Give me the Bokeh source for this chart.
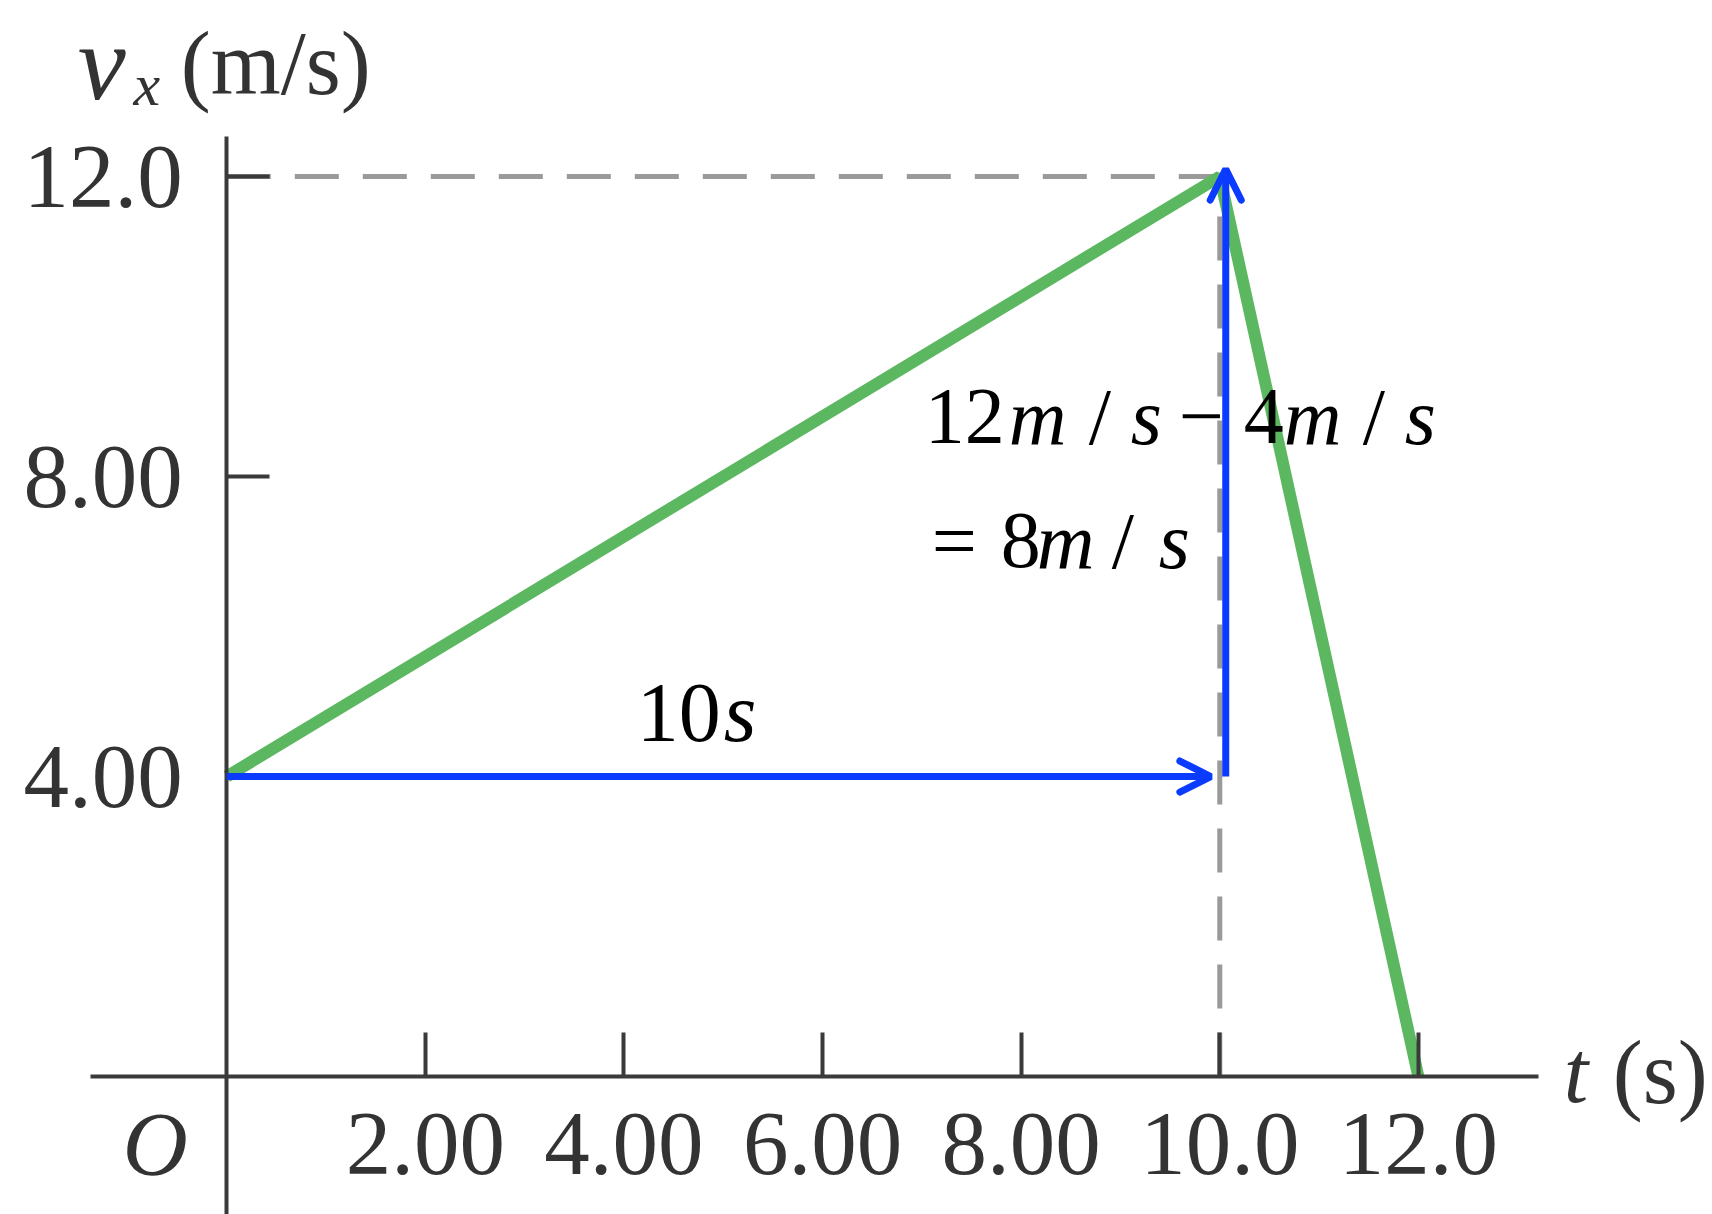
from bokeh.plotting import figure
from bokeh.models import (Range1d, FixedTicker, Label, Arrow, OpenHead,
                          LinearAxis, CustomJSTickFormatter)
from bokeh.embed import file_html
from bokeh.resources import INLINE

# ---- data ----
t_vals = [0.0, 10.0, 12.0]
v_vals = [4.0, 12.0, 0.0]
x_ticks = [2, 4, 6, 8, 10, 12]
x_tick_labels = ["2.00", "4.00", "6.00", "8.00", "10.0", "12.0"]
y_ticks = [4, 8, 12]
y_tick_labels = ["4.00", "8.00", "12.0"]

SERIF = "Liberation Serif"
AXIS_C = "#3a3a3a"
LABEL_C = "#333333"
BLUE = "#0B3BFF"
GREEN = "#5CB860"
DASH_C = "#9a9a9a"

W, H = 1712, 1214
p = figure(width=W, height=H, output_backend="svg", toolbar_location=None,
           x_range=Range1d(-2.279, 14.962), y_range=Range1d(-1.84, 14.347),
           min_border=0, x_axis_type=None, y_axis_type=None)
p.outline_line_color = None
p.background_fill_color = "white"
p.border_fill_color = "white"


def fmt(tick_list, label_list):
    return CustomJSTickFormatter(args=dict(tvals=tick_list, tlabels=label_list),
                                 code="const i = tvals.indexOf(tick); return i >= 0 ? tlabels[i] : '';")


xaxis = LinearAxis(fixed_location=0, ticker=FixedTicker(ticks=x_ticks),
                   formatter=fmt(x_ticks, x_tick_labels), bounds=(-1.37, 13.21),
                   axis_line_color=AXIS_C, axis_line_width=4,
                   major_tick_line_color=AXIS_C, major_tick_line_width=4,
                   major_tick_in=44, major_tick_out=0,
                   minor_tick_in=0, minor_tick_out=0,
                   major_label_text_font=SERIF, major_label_text_font_size="91px",
                   major_label_text_color=LABEL_C, major_label_standoff=37)
p.add_layout(xaxis, "below")

yaxis = LinearAxis(fixed_location=0, ticker=FixedTicker(ticks=y_ticks),
                   formatter=fmt(y_ticks, y_tick_labels), bounds=(-2.0, 12.53),
                   axis_line_color=AXIS_C, axis_line_width=4,
                   major_tick_line_color=AXIS_C, major_tick_line_width=4,
                   major_tick_in=43, major_tick_out=0,
                   minor_tick_in=0, minor_tick_out=0,
                   major_label_text_font=SERIF, major_label_text_font_size="91px",
                   major_label_text_color=LABEL_C, major_label_standoff=44)
p.add_layout(yaxis, "left")

# dashed guide lines to the peak
p.line([t_vals[0], t_vals[1]], [v_vals[1], v_vals[1]], line_color=DASH_C,
       line_width=5, line_dash="44 24")
p.line([t_vals[1], t_vals[1]], [0, v_vals[1]], line_color=DASH_C,
       line_width=5, line_dash="44 24")

# velocity graph
p.line(t_vals, v_vals, line_color=GREEN, line_width=12)

# blue arrows
p.add_layout(Arrow(end=OpenHead(size=31, line_color=BLUE, line_width=7, line_cap="round"),
                   x_start=t_vals[0], y_start=v_vals[0],
                   x_end=t_vals[1] - 0.09, y_end=v_vals[0],
                   line_color=BLUE, line_width=7))
p.add_layout(Arrow(end=OpenHead(size=31, line_color=BLUE, line_width=7, line_cap="round"),
                   x_start=t_vals[1] + 0.06, y_start=v_vals[0],
                   x_end=t_vals[1] + 0.06, y_end=v_vals[1] + 0.1,
                   line_color=BLUE, line_width=7))


def lab(x, y, text, size, italic=False, color="black"):
    p.add_layout(Label(x=x, y=y, text=text, text_font=SERIF,
                       text_font_style="italic" if italic else "normal",
                       text_font_size=f"{size}px", text_color=color,
                       text_align="left", text_baseline="alphabetic"))


# annotation: 12m/s - 4m/s
y1 = 8.80
for x, s, it in [(7.029, "12", False), (7.875, "m", True), (8.681, "/", False),
                 (9.104, "s", True), (9.587, "\u2212", False), (10.242, "4", False),
                 (10.645, "m", True), (11.440, "/", False), (11.863, "s", True)]:
    lab(x, y1, s, 80, it)

# = 8m/s
y2 = 7.146
for x, s, it in [(7.100, "=", False), (7.795, "8", False), (8.157, "m", True),
                 (8.912, "/", False), (9.386, "s", True)]:
    lab(x, y2, s, 80, it)

# 10s
lab(4.129, 4.853, "10", 84)
lab(5.005, 4.853, "s", 84, True)

# axis titles and origin
lab(-1.047, -0.90, "O", 90, True, LABEL_C)
lab(13.464, 0.053, "t", 88, True, LABEL_C)
lab(13.958, 0.053, "(s)", 90, False, LABEL_C)
lab(-1.500, 13.52, "v", 108, True, LABEL_C)
lab(-0.940, 13.226, "x", 60, True, LABEL_C)
lab(-0.463, 13.506, "(m/s)", 90, False, LABEL_C)

open("out.html", "w").write(file_html(p, INLINE))
